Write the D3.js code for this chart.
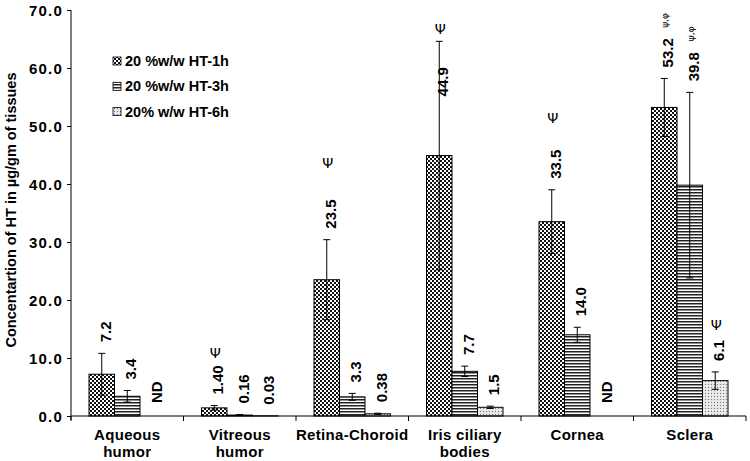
<!DOCTYPE html>
<html><head><meta charset="utf-8">
<script src="https://cdn.jsdelivr.net/npm/d3@7"></script>
<style>
body{margin:0;background:#fff;}
text{font-family:"Liberation Sans",Arial,sans-serif;fill:#000;}
</style></head>
<body><svg id="c" width="750" height="461"></svg>
<script>
// ---- data ----
const categories = ["Aqueous\nhumor","Vitreous\nhumor","Retina-Choroid","Iris ciliary\nbodies","Cornea","Sclera"];
const seriesNames = ["20 %w/w HT-1h","20 %w/w HT-3h","20% w/w HT-6h"];
const values1h = [7.2, 1.40, 23.5, 44.9, 33.5, 53.2];
const values3h = [3.4, 0.16, 3.3, 7.7, 14.0, 39.8];
const values6h = [null, 0.03, 0.38, 1.5, null, 6.1];
const sd1h = [3.6, 0.4, 6.9, 19.7, 5.5, 5.0];
const sd3h = [1.0, 0.1, 0.6, 0.9, 1.3, 16.0];
const sd6h = [0, 0, 0.1, 0.2, 0, 1.5];
const labels1h = ["7.2","1.40","23.5","44.9","33.5","53.2"];
const labels3h = ["3.4","0.16","3.3","7.7","14.0","39.8"];
const labels6h = ["ND","0.03","0.38","1.5","ND","6.1"];
const yTicks = [0,10,20,30,40,50,60,70];
// significance marks: category index, series index, level (y value), symbol
const markCat = [1, 2, 3, 4, 5, 5, 5];
const markSeries = [0, 0, 0, 0, 2, 0, 1];
const markLevel = [10.8, 43.7, 66.8, 51.3, 15.7, 68.2, 65.9];
const markText = ["Ψ","Ψ","Ψ","Ψ","Ψ","ψ,φ","ψ,φ"];

const svg = d3.select("#c");
const mLeft = 71, mRight = 746, mTop = 10, mBottom = 416;
const y = d3.scaleLinear().domain([0,70]).range([mBottom, mTop]);
const x0 = d3.scaleBand().domain(d3.range(categories.length)).range([mLeft, mRight]);
const x1 = d3.scaleBand().domain([0,1,2]).range([0, x0.bandwidth()]).paddingInner(0).paddingOuter(0.706);

// patterns
const defs = svg.append("defs");
const p1 = defs.append("pattern").attr("id","pat0").attr("patternUnits","userSpaceOnUse").attr("width",4).attr("height",4);
p1.append("rect").attr("width",4).attr("height",4).attr("fill","#fff");
p1.append("rect").attr("width",2).attr("height",2).attr("fill","#111");
p1.append("rect").attr("x",2).attr("y",2).attr("width",2).attr("height",2).attr("fill","#111");
const p2 = defs.append("pattern").attr("id","pat1").attr("patternUnits","userSpaceOnUse").attr("width",4).attr("height",3);
p2.append("rect").attr("width",4).attr("height",3).attr("fill","#fff");
p2.append("rect").attr("width",4).attr("height",1.5).attr("fill","#222");
const p3 = defs.append("pattern").attr("id","pat2").attr("patternUnits","userSpaceOnUse").attr("width",3).attr("height",3);
p3.append("rect").attr("width",3).attr("height",3).attr("fill","#e4e4e4");
p3.append("rect").attr("width",1).attr("height",1).attr("fill","#777");
p3.append("rect").attr("x",1.5).attr("y",1.5).attr("width",1).attr("height",1).attr("fill","#fff");

const vals = [values1h, values3h, values6h];
const sds = [sd1h, sd3h, sd6h];
const labs = [labels1h, labels3h, labels6h];

const data = [];
categories.forEach((c,i)=>{
  [0,1,2].forEach(s=>{
    data.push({i, s, v: vals[s][i], sd: sds[s][i], lab: labs[s][i]});
  });
});

// bars
svg.append("g").selectAll("rect").data(data.filter(d=>d.v!=null)).join("rect")
  .attr("x", d=>x0(d.i)+x1(d.s))
  .attr("width", x1.bandwidth())
  .attr("y", d=>y(d.v))
  .attr("height", d=>y(0)-y(d.v))
  .attr("fill", d=>`url(#pat${d.s})`)
  .attr("stroke","#000").attr("stroke-width",1);

// error bars
const eb = svg.append("g").attr("stroke","#000").attr("stroke-width",1);
data.filter(d=>d.v!=null && d.sd>0).forEach(d=>{
  const cx = x0(d.i)+x1(d.s)+x1.bandwidth()/2;
  const lo = Math.max(0, d.v-d.sd), hi = d.v+d.sd;
  eb.append("line").attr("x1",cx).attr("x2",cx).attr("y1",y(lo)).attr("y2",y(hi));
  eb.append("line").attr("x1",cx-3.5).attr("x2",cx+3.5).attr("y1",y(hi)).attr("y2",y(hi));
  eb.append("line").attr("x1",cx-3.5).attr("x2",cx+3.5).attr("y1",y(lo)).attr("y2",y(lo));
});

// value labels
svg.append("g").selectAll("text").data(data).join("text")
  .attr("transform", d=>{
    const cx = x0(d.i)+x1(d.s)+x1.bandwidth()/2 + 9;
    let yb;
    if (d.v==null) yb = y(0)-13;
    else {
      const hi = d.v + d.sd;
      if (hi > 60) yb = y(d.v + d.sd/2) - 2;
      else yb = y(hi) - 11;
    }
    return `translate(${cx},${yb}) rotate(-90)`;
  })
  .attr("text-anchor","start")
  .attr("font-size",15).attr("font-weight","bold")
  .text(d=>d.lab);

// significance marks
markCat.forEach((c,k)=>{
  const cx = x0(c)+x1(markSeries[k])+x1.bandwidth()/2;
  if (markText[k]==="Ψ") {
    svg.append("text").attr("x",cx+1).attr("y",y(markLevel[k])+5)
      .attr("text-anchor","middle").attr("font-size",14).attr("fill","#000")
      .style("font-family","'DejaVu Sans', sans-serif").text(markText[k]);
  } else {
    svg.append("text").attr("transform",`translate(${cx+4},${y(markLevel[k])}) rotate(-90)`)
      .attr("text-anchor","middle").attr("font-size",9).attr("fill","#000")
      .style("font-family","'DejaVu Sans', sans-serif").text(markText[k]);
  }
});

// axes
const ya = svg.append("g").attr("transform",`translate(${mLeft},0)`)
  .call(d3.axisLeft(y).tickValues(yTicks).tickSize(4).tickSizeOuter(0).tickFormat(d3.format(".1f")));
ya.select(".domain").attr("stroke","#000").attr("d",`M0,${mTop}V${mBottom+4}`);
ya.selectAll(".tick line").attr("stroke","#000");
ya.selectAll(".tick text").attr("font-family","Liberation Sans, Arial, sans-serif")
  .attr("font-size",15).attr("font-weight","bold").attr("fill","#000").attr("letter-spacing","1.2px").attr("x",-8).attr("dy","0.35em");

const xa = svg.append("g").attr("transform",`translate(0,${mBottom})`);
xa.append("line").attr("x1",mLeft).attr("x2",mRight).attr("stroke","#000");
xa.selectAll(".tk").data(d3.range(categories.length+1)).join("line")
  .attr("x1",i=>mLeft+i*x0.step()).attr("x2",i=>mLeft+i*x0.step())
  .attr("y1",0).attr("y2",5).attr("stroke","#000");
categories.forEach((c,i)=>{
  const t = xa.append("text").attr("text-anchor","middle").attr("font-size",15).attr("font-weight","bold")
    .attr("letter-spacing","0.3px");
  c.split("\n").forEach((ln,j)=>{
    t.append("tspan").attr("x", x0(i)+x0.bandwidth()/2).attr("y", 24 + j*17).text(ln);
  });
});

// y title
svg.append("text").attr("transform",`translate(16,210) rotate(-90)`).attr("text-anchor","middle")
  .attr("font-size",14.5).attr("font-weight","bold").text("Concentartion of HT in µg/gm of tissues");

// legend
const lg = svg.append("g");
seriesNames.forEach((n,k)=>{
  lg.append("rect").attr("x",113).attr("y",57+k*25.3).attr("width",8).attr("height",8)
    .attr("fill",`url(#pat${k})`).attr("stroke","#000").attr("stroke-width",0.8);
  lg.append("text").attr("x",125).attr("y",66+k*25.3).attr("font-size",14.5).attr("font-weight","bold").text(n);
});
</script>
</body></html>
